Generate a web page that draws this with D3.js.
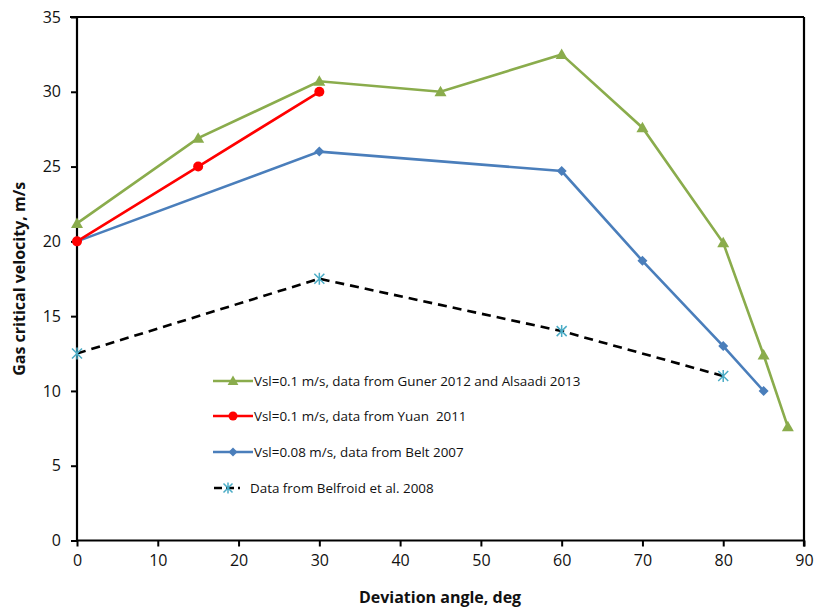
<!DOCTYPE html>
<html>
<head>
<meta charset="utf-8">
<script src="https://cdn.jsdelivr.net/npm/d3@7"></script>
<style>
  body { margin: 0; background: #fff; }
  svg { display: block; }
  text { font-family: "Open Sans", "Liberation Sans", sans-serif; fill: #111; white-space: pre; }
</style>
</head>
<body>
<svg id="chart" width="818" height="607"></svg>
<script>
// Deviation angle (deg) and gas critical velocity (m/s)
const gunerAngle = [0, 15, 30, 45, 60, 70, 80, 85, 88];
const gunerVel   = [21.2, 26.9, 30.7, 30.0, 32.5, 27.6, 19.9, 12.4, 7.6];
const yuanAngle  = [0, 15, 30];
const yuanVel    = [20, 25, 30];
const beltAngle  = [0, 30, 60, 70, 80, 85];
const beltVel    = [20, 26, 24.7, 18.7, 13, 10];
const belfAngle  = [0, 30, 60, 80];
const belfVel    = [12.5, 17.5, 14, 11];

const xTicks = [0, 10, 20, 30, 40, 50, 60, 70, 80, 90];
const yTicks = [0, 5, 10, 15, 20, 25, 30, 35];

const seriesNames = [
  "Vsl=0.1 m/s, data from Guner 2012 and Alsaadi 2013",
  "Vsl=0.1 m/s, data from Yuan  2011",
  "Vsl=0.08 m/s, data from Belt 2007",
  "Data from Belfroid et al. 2008"
];

const svg = d3.select("#chart");
const plotL = 77, plotR = 804, plotT = 17, plotB = 540.5;

const x = d3.scaleLinear().domain([0, 90]).range([plotL, plotR]);
const y = d3.scaleLinear().domain([0, 35]).range([plotB, plotT]);

const series = [
  { name: seriesNames[0], ax: gunerAngle, v: gunerVel, color: "#8aac4c", marker: "triangle", mColor: "#8aac4c", dash: null },
  { name: seriesNames[1], ax: yuanAngle,  v: yuanVel,  color: "#ff0000", marker: "circle",   mColor: "#ff0000", dash: null },
  { name: seriesNames[2], ax: beltAngle,  v: beltVel,  color: "#4a7ebb", marker: "diamond",  mColor: "#4a7ebb", dash: null },
  { name: seriesNames[3], ax: belfAngle,  v: belfVel,  color: "#000000", marker: "star",     mColor: "#4bacc6", dash: "9,6" }
];

// Axes
const xAxis = d3.axisBottom(x).tickValues(xTicks).tickSize(6).tickPadding(8);
const yAxis = d3.axisLeft(y).tickValues(yTicks).tickSize(6).tickPadding(10);

const gx = svg.append("g").attr("transform", `translate(0,${plotB})`).call(xAxis);
const gy = svg.append("g").attr("transform", `translate(${plotL},0)`).call(yAxis);
[gx, gy].forEach(g => {
  g.select(".domain").attr("stroke", "#000").attr("stroke-width", 2.2);
  g.selectAll(".tick line").attr("stroke", "#000").attr("stroke-width", 2);
  g.selectAll(".tick text").attr("font-size", 16).attr("fill", "#111")
    .attr("font-family", "'Open Sans', 'Liberation Sans', sans-serif");
});
gx.select(".domain").attr("d", `M${plotL},0H${plotR}`);
gy.select(".domain").attr("d", `M0,${plotB}V${plotT}`);

// Top and right frame lines
svg.append("line").attr("x1", plotL - 7).attr("x2", plotR).attr("y1", plotT).attr("y2", plotT)
  .attr("stroke", "#000").attr("stroke-width", 2.2);
svg.append("line").attr("x1", plotR).attr("x2", plotR).attr("y1", plotT).attr("y2", plotB + 6)
  .attr("stroke", "#000").attr("stroke-width", 2.2);

// Axis titles
svg.append("text").attr("x", 440).attr("y", 603).attr("text-anchor", "middle")
  .attr("font-size", 16).attr("font-weight", "bold").text("Deviation angle, deg");
svg.append("text").attr("transform", `translate(25,${(plotT + plotB) / 2}) rotate(-90)`)
  .attr("text-anchor", "middle").attr("font-size", 16).attr("font-weight", "bold")
  .text("Gas critical velocity, m/s");

function drawMarker(g, type, cx, cy, color, scale = 1) {
  if (type === "triangle") {
    const s = 6 * scale;
    g.append("path").attr("d", `M${cx},${cy - s}L${cx + s},${cy + s * 0.75}L${cx - s},${cy + s * 0.75}Z`).attr("fill", color);
  } else if (type === "circle") {
    g.append("circle").attr("cx", cx).attr("cy", cy).attr("r", 5 * scale).attr("fill", color);
  } else if (type === "diamond") {
    const s = 5 * scale;
    g.append("path").attr("d", `M${cx},${cy - s}L${cx + s},${cy}L${cx},${cy + s}L${cx - s},${cy}Z`).attr("fill", color);
  } else if (type === "star") {
    const s = 5 * scale;
    const p = `M${cx - s},${cy - s}L${cx + s},${cy + s}M${cx - s},${cy + s}L${cx + s},${cy - s}M${cx},${cy - s * 1.2}L${cx},${cy + s * 1.2}`;
    g.append("path").attr("d", p).attr("stroke", color).attr("stroke-width", 1.5).attr("fill", "none");
  }
}

const line = d3.line().x(d => x(d[0])).y(d => y(d[1]));
const plot = svg.append("g");

// Draw back-to-front so the green series sits on top of the others
[3, 2, 1, 0].forEach(i => {
  const s = series[i];
  const pts = s.ax.map((a, k) => [a, s.v[k]]);
  plot.append("path").datum(pts).attr("d", line)
    .attr("fill", "none").attr("stroke", s.color).attr("stroke-width", 2.6)
    .attr("stroke-dasharray", s.dash);
  pts.forEach(p => drawMarker(plot, s.marker, x(p[0]), y(p[1]), s.mColor));
});

// Legend
const legend = svg.append("g");
const legRows = [381, 416, 452, 488];
series.forEach((s, i) => {
  const ly = legRows[i];
  const x0 = s.dash ? 214 : 213, x1 = s.dash ? 240 : 253;
  legend.append("line").attr("x1", x0).attr("x2", x1).attr("y1", ly).attr("y2", ly)
    .attr("stroke", s.color).attr("stroke-width", 2.6).attr("stroke-dasharray", s.dash ? "8,4" : null);
  drawMarker(legend, s.marker, s.dash ? 228 : 233, ly, s.mColor, 0.9);
  legend.append("text").attr("x", s.dash ? 250 : 254).attr("y", ly + 4.5)
    .attr("font-size", 13.4).text(s.name);
});
</script>
</body>
</html>
